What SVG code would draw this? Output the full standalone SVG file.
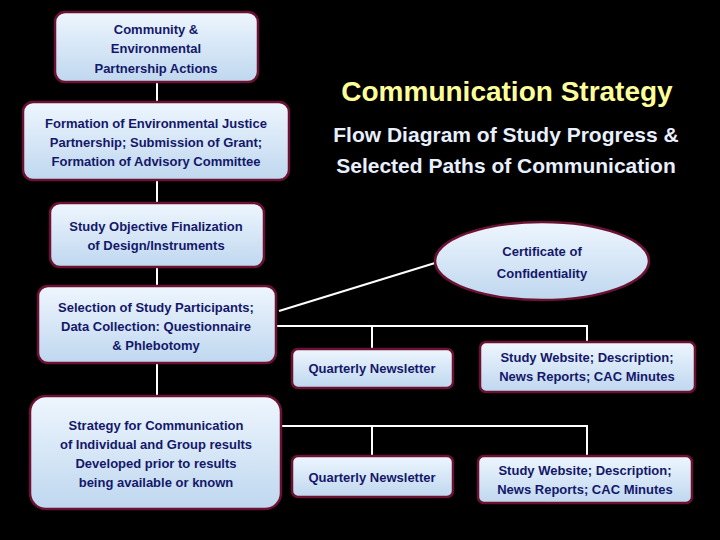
<svg xmlns="http://www.w3.org/2000/svg" width="720" height="540" viewBox="0 0 720 540">
<defs>
<linearGradient id="g" x1="0" y1="0" x2="0" y2="1"><stop offset="0" stop-color="#eef6fe"/><stop offset="1" stop-color="#bfd7ef"/></linearGradient>
<style>
.n{fill:url(#g);stroke:#6b1233;stroke-width:2.5}
.t{font-family:"Liberation Sans",Arial,sans-serif;font-weight:bold;font-size:13px;fill:#14186a;text-anchor:middle}
.c{stroke:#ffffff;stroke-width:2;fill:none}
</style>
</defs>
<rect width="720" height="540" fill="#000"/>
<g id="connectors">
<path class="c" d="M157 82V102M157 180V203M157 267V286M157 363V396"/>
<path class="c" d="M279 311L435 263"/>
<path class="c" d="M277 326H587V342M372 326V349"/>
<path class="c" d="M282 426H587V456M372 426V456"/>
</g>
<text x="507" y="101" font-family="Liberation Sans,Arial,sans-serif" font-weight="bold" font-size="28" fill="#ffff99" text-anchor="middle">Communication Strategy</text>
<text font-family="Liberation Sans,Arial,sans-serif" font-weight="bold" font-size="21" fill="#e8f0ff" text-anchor="middle"><tspan x="506" y="142">Flow Diagram of Study Progress &amp;</tspan><tspan x="506" y="173">Selected Paths of Communication</tspan></text>
<g id="n1"><rect class="n" x="55" y="12" width="203" height="70" rx="10"/><text class="t"><tspan x="156" y="34">Community &amp;</tspan><tspan x="156" y="53">Environmental</tspan><tspan x="156" y="73">Partnership Actions</tspan></text></g>
<g id="n2"><rect class="n" x="23" y="102" width="266" height="78" rx="10"/><text class="t"><tspan x="156" y="128">Formation of Environmental Justice</tspan><tspan x="156" y="147">Partnership; Submission of Grant;</tspan><tspan x="156" y="166">Formation of Advisory Committee</tspan></text></g>
<g id="n3"><rect class="n" x="50" y="203" width="214" height="64" rx="10"/><text class="t"><tspan x="156" y="231">Study Objective Finalization</tspan><tspan x="156" y="250">of Design/Instruments</tspan></text></g>
<g id="n4"><rect class="n" x="38" y="286" width="238" height="77" rx="10"/><text class="t"><tspan x="156" y="312">Selection of Study Participants;</tspan><tspan x="156" y="331">Data Collection: Questionnaire</tspan><tspan x="156" y="350">&amp; Phlebotomy</tspan></text></g>
<g id="n5"><rect class="n" x="30" y="396" width="251" height="113" rx="16"/><text class="t"><tspan x="156" y="430">Strategy for Communication</tspan><tspan x="156" y="449">of Individual and Group results</tspan><tspan x="156" y="468">Developed prior to results</tspan><tspan x="156" y="487">being available or known</tspan></text></g>
<g id="n6"><ellipse class="n" cx="542" cy="261" rx="107" ry="39"/><text class="t" font-size="15"><tspan x="542" y="256">Certificate of</tspan><tspan x="542" y="278">Confidentiality</tspan></text></g>
<g id="n7"><rect class="n" x="292" y="349" width="161" height="39" rx="6"/><text class="t" x="372" y="373">Quarterly Newsletter</text></g>
<g id="n8"><rect class="n" x="480" y="342" width="215" height="50" rx="6"/><text class="t"><tspan x="587" y="362">Study Website; Description;</tspan><tspan x="587" y="381">News Reports; CAC Minutes</tspan></text></g>
<g id="n9"><rect class="n" x="292" y="456" width="161" height="41" rx="6"/><text class="t" x="372" y="482">Quarterly Newsletter</text></g>
<g id="n10"><rect class="n" x="478" y="456" width="214" height="47" rx="6"/><text class="t"><tspan x="585" y="475">Study Website; Description;</tspan><tspan x="585" y="494">News Reports; CAC Minutes</tspan></text></g>
</svg>
